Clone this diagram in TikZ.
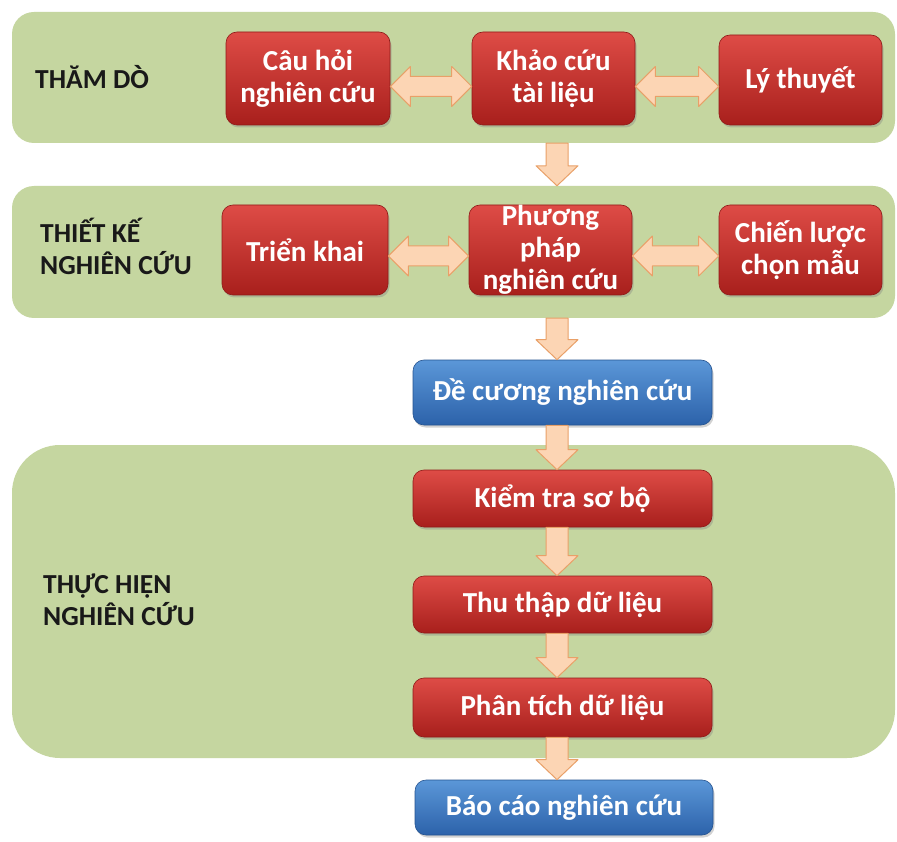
\documentclass[tikz,border=0pt]{standalone}
\usepackage{fontspec}
\setmainfont{Carlito}
\usetikzlibrary{calc,shadows}
\definecolor{panelgreen}{HTML}{C5D6A0}
\definecolor{redtop}{HTML}{DE4C46}
\definecolor{redbot}{HTML}{A81F1C}
\definecolor{bluetop}{HTML}{5B97D8}
\definecolor{bluebot}{HTML}{2C62AA}
\definecolor{arrowfill}{HTML}{FCD5B4}
\definecolor{arrowline}{HTML}{E9A068}
\newcommand{\hblock}[3]{%
  \draw[blockarrow] let \p1=($(#1.east)+(0,#3)$), \p2=(#2.west) in
   (\x1,\y1) -- (\x1+20pt,\y1+20pt) -- (\x1+20pt,\y1+10pt) -- (\x2-20pt,\y1+10pt)
   -- (\x2-20pt,\y1+20pt) -- (\x2,\y1) -- (\x2-20pt,\y1-20pt) -- (\x2-20pt,\y1-10pt)
   -- (\x1+20pt,\y1-10pt) -- (\x1+20pt,\y1-20pt) -- cycle;}
\newcommand{\vblock}[3]{%
  \draw[blockarrow] let \p1=(#2), \p2=(#3), \p3=(#1,0) in
   (\x3-11pt,\y1) -- (\x3+11pt,\y1) -- (\x3+11pt,\y2+20pt) -- (\x3+21pt,\y2+20pt)
   -- (\x3,\y2) -- (\x3-21pt,\y2+20pt) -- (\x3-11pt,\y2+20pt) -- cycle;}
\begin{document}
\begin{tikzpicture}[x=1pt,y=-1pt,
  panel/.style={fill=panelgreen,draw=none,rounded corners=22pt,inner sep=0pt},
  phaselabel/.style={anchor=west,align=left,text=black!90,font=\bfseries\fontsize{27.5}{32}\selectfont,inner sep=0pt},
  boxbase/.style={rounded corners=11pt,text=white,align=center,inner sep=0pt,
    font=\bfseries\fontsize{29}{32}\selectfont,line width=0.6pt,
    drop shadow={opacity=0.35,shadow xshift=1.5pt,shadow yshift=-2.5pt}},
  redbox/.style={boxbase,top color=redtop,bottom color=redbot,draw=redbot!85!black},
  bluebox/.style={boxbase,top color=bluetop,bottom color=bluebot,draw=bluebot!85!black},
  blockarrow/.style={fill=arrowfill,draw=arrowline,line width=1pt,line join=round}]
\useasboundingbox (0,0) rectangle (897,842);
\fill[white] (0,0) rectangle (897,842);
% panels
\node[panel,minimum width=883pt,minimum height=131pt] (p1) at (453.5,77.5) {};
\node[panel,minimum width=883pt,minimum height=132pt] (p2) at (453.5,252) {};
\node[panel,rounded corners=48pt,minimum width=883pt,minimum height=313pt] (p3) at (453.5,601.5) {};
% phase labels
\node[phaselabel] (l1) at (35,77) {THĂM DÒ};
\node[phaselabel] (l2) at (40,246) {THIẾT KẾ\\NGHIÊN CỨU};
\node[phaselabel] (l3) at (43,600) {THỰC HIỆN\\NGHIÊN CỨU};
% boxes
\node[redbox,minimum width=164pt,minimum height=93pt] (chq) at (308,78.5) {Câu hỏi\\nghiên cứu};
\node[redbox,minimum width=163pt,minimum height=93pt] (kctl) at (553.5,78.5) {Khảo cứu\\tài liệu};
\node[redbox,minimum width=163pt,minimum height=90pt] (lt) at (800.5,80) {Lý thuyết};
\node[redbox,minimum width=166pt,minimum height=90pt] (tk) at (305,250) {Triển khai};
\node[redbox,minimum width=163pt,minimum height=90pt] (ppnc) at (550.5,250) {Phương\\pháp\\nghiên cứu};
\node[redbox,minimum width=163pt,minimum height=90pt] (cl) at (800.5,250) {Chiến lược\\chọn mẫu};
\node[bluebox,minimum width=299pt,minimum height=65pt] (dc) at (562.5,392.5) {Đề cương nghiên cứu};
\node[redbox,minimum width=299pt,minimum height=57pt] (kt) at (562.5,498.5) {Kiểm tra sơ bộ};
\node[redbox,minimum width=299pt,minimum height=57pt] (tt) at (562.5,604.5) {Thu thập dữ liệu};
\node[redbox,minimum width=299pt,minimum height=59pt] (pt) at (562.5,707.5) {Phân tích dữ liệu};
\node[bluebox,minimum width=298pt,minimum height=55pt] (bc) at (564,807.5) {Báo cáo nghiên cứu};
% horizontal double arrows
\hblock{chq}{kctl}{8}
\hblock{kctl}{lt}{8}
\hblock{tk}{ppnc}{6}
\hblock{ppnc}{cl}{6}
% vertical arrows
\vblock{557}{p1.south}{p2.north}
\vblock{557}{p2.south}{dc.north}
\vblock{557}{dc.south}{kt.north}
\vblock{557}{kt.south}{tt.north}
\vblock{557}{tt.south}{pt.north}
\vblock{557}{pt.south}{bc.north}
\end{tikzpicture}
\end{document}
